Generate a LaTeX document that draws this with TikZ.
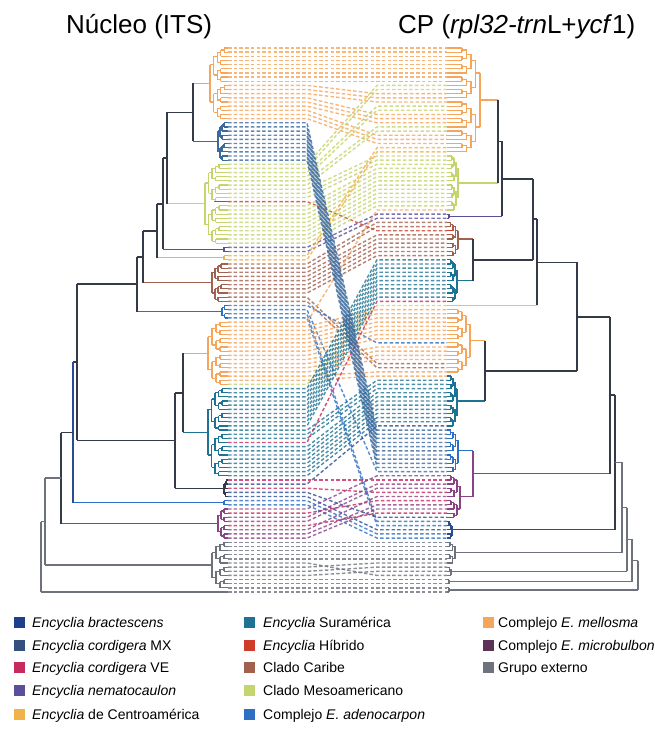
\documentclass[tikz,border=0pt]{standalone}
\usepackage{fontspec}
\setmainfont{Liberation Sans}
\definecolor{colO}{HTML}{F5A65B}
\definecolor{colC}{HTML}{F2B14A}
\definecolor{colG}{HTML}{C5D46C}
\definecolor{colX}{HTML}{3A6A9E}
\definecolor{colT}{HTML}{1E7394}
\definecolor{colA}{HTML}{2C6FC4}
\definecolor{colD}{HTML}{2A4C92}
\definecolor{colV}{HTML}{C72A5C}
\definecolor{colN}{HTML}{5B4F9C}
\definecolor{colH}{HTML}{CF3C29}
\definecolor{colK}{HTML}{A2614F}
\definecolor{colM}{HTML}{8A4383}
\definecolor{colE}{HTML}{6E727C}
\definecolor{colBB}{HTML}{353A48}
\definecolor{lgD}{HTML}{1F3E8C}
\definecolor{lgX}{HTML}{34507E}
\definecolor{lgM}{HTML}{5C3356}
\newcommand\tipx{228}
\newcommand\hh{4.153}
\newcommand\subtree[6]{%
  \pgfmathsetmacro\styc{48+(#1+#2)/2*\hh}%
  \ifnum#1=#2\relax
    \draw[br,draw=#6] (#3,\styc) -- (\tipx,\styc);%
  \else
    \draw[br,draw=#6] (#3,\styc) -- (#4,\styc);%
    \pgfmathtruncatemacro\stmd{floor((#1+#2)/2)}%
    \pgfmathsetmacro\stya{48+(#1+\stmd)/2*\hh}%
    \pgfmathsetmacro\styb{48+(\stmd+1+#2)/2*\hh}%
    \draw[br,draw=#6] (#4,\stya) -- (#4,\styb);%
    \pgfmathsetmacro\stxn{#4+(#5)}%
    \edef\stnext{\noexpand\subtree{#1}{\stmd}{#4}{\stxn}{#5}{#6}\noexpand\subtree{\the\numexpr\stmd+1\relax}{#2}{#4}{\stxn}{#5}{#6}}%
    \stnext
  \fi}
\tikzset{
  br/.style={line width=1.2pt},
  bb/.style={line width=1.7pt,draw=colBB},
  bg/.style={line width=1.4pt,draw=colE},
  conn/.style={dash pattern=on 3.5pt off 2.2pt,line width=1.4pt,opacity=0.8},
  sq/.style={minimum size=11pt,inner sep=0pt,draw=none},
  lt/.style={anchor=base west,inner sep=0pt,font=\fontsize{14}{16}\selectfont},
  tt/.style={anchor=base west,inner sep=0pt,font=\fontsize{26}{30}\selectfont}
}
\begin{document}
\begin{tikzpicture}[x=1pt,y=-1pt]
\fill[white] (0,0) rectangle (654,731);
\useasboundingbox (0,0) rectangle (654,731);
% titles
\node[tt] (tl) at (66,33) {Núcleo (ITS)};
\node[tt] (tr) at (398,33) {CP (\textit{rpl32-trn}L+\textit{ycf}1)};
% connectors
\foreach \l/\r/\g in {0/0/O,1/1/O,2/2/O,3/3/O,4/4/O,5/5/O,6/6/O,7/7/O,8/8/O,9/11/O,10/12/O,11/13/O,12/16/O,13/17/O,14/18/O,15/21/O,16/22/O,17/23/O,
28/9/G,29/10/G,30/14/G,31/15/G,32/19/G,33/20/G,34/26/G,35/27/G,36/28/G,37/44/H,38/29/G,39/30/G,40/31/G,41/32/G,42/33/G,43/34/G,44/35/G,45/36/G,46/37/G,47/38/G,
48/40/N,49/41/N,50/24/C,51/25/C,
52/42/K,53/43/K,54/45/K,55/46/K,56/47/K,57/48/K,58/49/K,59/50/K,60/76/K,61/77/K,
62/71/A,63/102/A,64/114/A,65/115/A,
66/39/O,67/63/O,68/64/O,69/65/O,70/66/O,71/67/O,72/68/O,73/69/O,74/70/O,75/72/O,76/73/O,77/74/O,78/75/O,79/78/O,80/79/O,81/62/G,
82/51/T,83/52/T,84/53/T,85/54/T,86/55/T,87/56/T,88/57/T,89/58/T,90/59/T,91/60/T,92/80/T,93/81/T,94/82/T,95/61/V,96/83/T,97/84/T,98/85/T,99/86/T,100/87/T,101/88/T,102/89/T,103/90/T,
104/104/V,105/91/D,106/107/V,107/113/D,108/116/D,109/117/A,110/118/A,
111/103/M,112/109/V,113/105/M,114/106/M,115/112/V,116/108/M,117/110/M,118/111/M,
119/119/E,120/120/E,121/121/E,122/122/E,123/123/E,124/127/E,125/124/E,126/125/E,127/126/E,128/128/E,129/129/E,130/130/E,131/131/E,
18/92/X,19/93/X,20/94/X,21/95/X,22/96/X,23/97/X,24/98/X,25/99/X,26/100/X,27/101/X}
  {\draw[conn,draw=col\g] (228,{48+\l*\hh}) -- (307,{48+\l*\hh}) -- (377,{48+\r*\hh}) -- (447,{48+\r*\hh});}
% ---------- left tree ----------
\renewcommand\tipx{228}
\subtree{0}{17}{193}{210}{3.6}{colO}
\subtree{18}{27}{193}{218}{2}{colX}
\subtree{28}{47}{167}{205}{3.5}{colG}
\draw[br,draw=colH] (214,{48+37*\hh}) -- (228,{48+37*\hh});
\subtree{48}{49}{163}{224}{0}{colN}
\subtree{50}{51}{157}{224}{0}{colC}
\subtree{52}{61}{143}{212}{3}{colK}
\subtree{62}{65}{137}{222}{2.5}{colA}
\subtree{66}{81}{183}{208}{4}{colO}
\subtree{82}{103}{183}{208}{3.5}{colT}
\subtree{104}{108}{175}{224}{1.2}{colBB}
\subtree{109}{110}{73}{224}{0}{colA}
\subtree{111}{118}{61}{218}{3}{colM}
\subtree{119}{130}{45}{212}{4}{colE}
\subtree{131}{131}{41}{0}{0}{colE}
% left backbone
\draw[bb] (193,83.30) -- (193,141.44);
\draw[bb] (167,112.37) -- (193,112.37);
\draw[bb] (167,112.37) -- (167,203.74);
\draw[bb] (163,158.05) -- (167,158.05);
\draw[bb] (163,158.05) -- (163,249.42);
\draw[bb] (157,203.74) -- (163,203.74);
\draw[bb] (157,203.74) -- (157,257.73);
\draw[bb] (143,230.73) -- (157,230.73);
\draw[bb] (143,230.73) -- (143,282.64);
\draw[bb] (137,256.69) -- (143,256.69);
\draw[bb] (137,256.69) -- (137,311.72);
\draw[bb] (77,284.20) -- (137,284.20);
\draw[bb] (183,353.25) -- (183,432.15);
\draw[bb] (175,392.70) -- (183,392.70);
\draw[bb] (175,392.70) -- (175,488.22);
\draw[bb] (77,440.46) -- (175,440.46);
\draw[bb] (77,284.20) -- (77,440.46);
\draw[bb] (73,362.33) -- (77,362.33);
\draw[bb,draw=colD] (73,362.33) -- (73,502.75);
\draw[bb] (61,432.54) -- (73,432.54);
\draw[bb] (61,432.54) -- (61,523.52);
\draw[bg] (45,478.03) -- (61,478.03);
\draw[bg] (45,478.03) -- (45,565.05);
\draw[bg] (41,521.54) -- (45,521.54);
\draw[bg] (41,521.54) -- (41,592.04);
% ---------- right tree ----------
\renewcommand\tipx{447}
\subtree{0}{25}{498}{480}{-4.5}{colO}
\subtree{26}{39}{498}{458}{-2}{colG}
\subtree{40}{41}{502}{449}{0}{colN}
\subtree{42}{50}{473}{458}{-2.5}{colK}
\draw[br,draw=colH] (447,{48+44*\hh}) -- (453,{48+44*\hh});
\subtree{51}{61}{473}{457}{-2}{colT}
\subtree{62}{62}{537}{0}{0}{colG}
\subtree{63}{78}{485}{470}{-4}{colO}
\subtree{79}{91}{485}{457}{-2}{colT}
\subtree{92}{102}{473}{458}{-2.5}{colA}
\subtree{103}{113}{473}{460}{-3}{colM}
\subtree{114}{118}{615}{452}{-1.5}{colD}
\subtree{119}{124}{622}{455}{-2.5}{colE}
\subtree{125}{127}{627}{451}{-1.5}{colE}
\subtree{128}{129}{632}{449}{0}{colE}
\subtree{130}{131}{638}{449}{0}{colE}
% right backbone
\draw[bb] (498,99.91) -- (498,182.97);
\draw[bb] (502,141.44) -- (498,141.44);
\draw[bb] (502,141.44) -- (502,216.20);
\draw[bb] (533,178.82) -- (502,178.82);
\draw[bb] (473,239.04) -- (473,280.57);
\draw[bb] (533,259.80) -- (473,259.80);
\draw[bb] (533,178.82) -- (533,259.80);
\draw[bb] (537,219.31) -- (533,219.31);
\draw[bb] (537,219.31) -- (537,305.49);
\draw[bb] (577,262.40) -- (537,262.40);
\draw[bb] (485,340.79) -- (485,401.01);
\draw[bb] (577,370.90) -- (485,370.90);
\draw[bb] (577,262.40) -- (577,370.90);
\draw[bb] (610,316.65) -- (577,316.65);
\draw[br,draw=colM] (473,450.84) -- (473,496.52);
\draw[br,draw=colM] (610,473.68) -- (473,473.68);
\draw[bb] (610,316.65) -- (610,473.68);
\draw[bb] (615,395.17) -- (610,395.17);
\draw[bb] (615,395.17) -- (615,529.75);
\draw[bg] (622,462.46) -- (615,462.46);
\draw[bg] (622,462.46) -- (622,552.59);
\draw[bg] (627,507.53) -- (622,507.53);
\draw[bg] (627,507.53) -- (627,571.28);
\draw[bg] (632,539.40) -- (627,539.40);
\draw[bg] (632,539.40) -- (632,581.66);
\draw[bg] (638,560.53) -- (632,560.53);
\draw[bg] (638,560.53) -- (638,589.97);
% ---------- legend ----------
\node[sq,fill=lgD] (s1) at (19,622) {};
\node[lt] (t1) at (32,627) {\textit{Encyclia bractescens}};
\node[sq,fill=lgX] (s2) at (19,645) {};
\node[lt] (t2) at (32,650) {\textit{Encyclia cordigera} MX};
\node[sq,fill=colV] (s3) at (19,667) {};
\node[lt] (t3) at (32,672) {\textit{Encyclia cordigera} VE};
\node[sq,fill=colN] (s4) at (19,690) {};
\node[lt] (t4) at (32,695) {\textit{Encyclia nematocaulon}};
\node[sq,fill=colC] (s5) at (19,714) {};
\node[lt] (t5) at (32,719) {\textit{Encyclia} de Centroamérica};
\node[sq,fill=colT] (s6) at (249,622) {};
\node[lt] (t6) at (263,627) {\textit{Encyclia} Suramérica};
\node[sq,fill=colH] (s7) at (249,645) {};
\node[lt] (t7) at (263,650) {\textit{Encyclia} Híbrido};
\node[sq,fill=colK] (s8) at (249,667) {};
\node[lt] (t8) at (263,672) {Clado Caribe};
\node[sq,fill=colG] (s9) at (249,690) {};
\node[lt] (t9) at (263,695) {Clado Mesoamericano};
\node[sq,fill=colA] (s10) at (249,714) {};
\node[lt] (t10) at (263,719) {Complejo \textit{E. adenocarpon}};
\node[sq,fill=colO] (s11) at (488,622) {};
\node[lt] (t11) at (498,627) {Complejo \textit{E. mellosma}};
\node[sq,fill=lgM] (s12) at (488,645) {};
\node[lt] (t12) at (498,650) {Complejo \textit{E. microbulbon}};
\node[sq,fill=colE] (s13) at (488,667) {};
\node[lt] (t13) at (498,672) {Grupo externo};
\end{tikzpicture}
\end{document}
